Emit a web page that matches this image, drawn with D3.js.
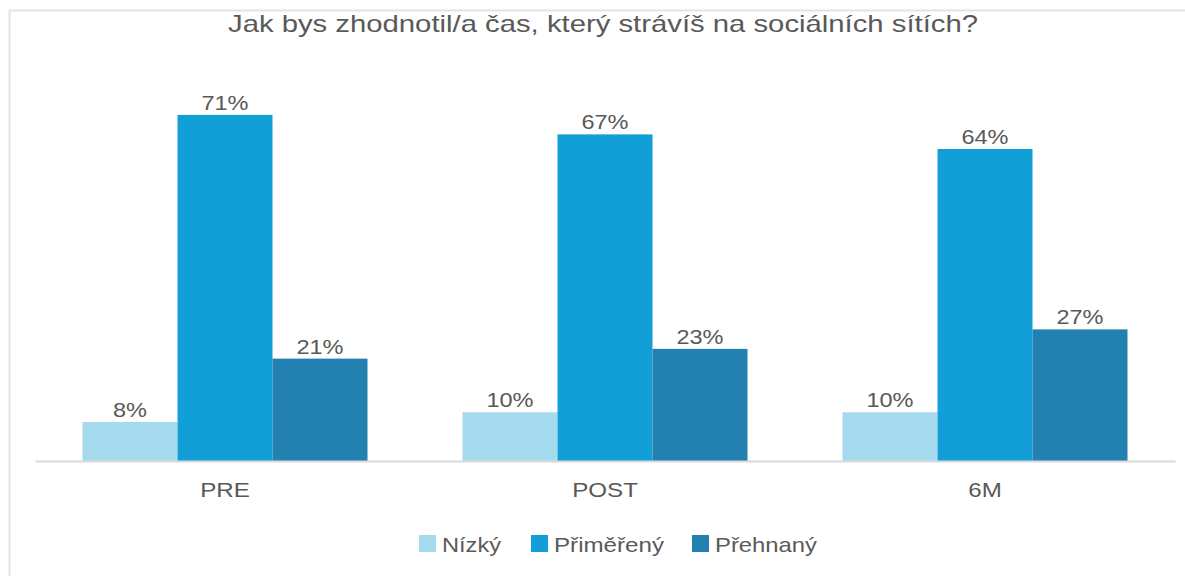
<!DOCTYPE html>
<html>
<head>
<meta charset="utf-8">
<script src="https://cdn.jsdelivr.net/npm/d3@7"></script>
<style>
  body { margin: 0; background: #fff; }
  text { font-family: "Liberation Sans", Arial, sans-serif; fill: #595959; }
</style>
</head>
<body>
<script>
// data
var categories = ["PRE", "POST", "6M"];
var series = ["Nízký", "Přiměřený", "Přehnaný"];
var nizky = [8, 10, 10];
var primereny = [71, 67, 64];
var prehnany = [21, 23, 27];

var colors = {
    "Nízký": "#a6dbef",
    "Přiměřený": "#129fd7",
    "Přehnaný": "#2381b1"
};

var width = 1185;
var height = 576;

// the reference text is drawn a bit wider than Arial, so stretch it
function stretch(sel, k) {
    sel.each(function() {
        var len = this.getComputedTextLength();
        d3.select(this)
            .attr("textLength", len * k)
            .attr("lengthAdjust", "spacingAndGlyphs");
    });
}

var svg = d3.select("body").append("svg")
    .attr("width", width)
    .attr("height", height);

// chart frame (only top and left edges show)
svg.append("line")
    .attr("x1", 9).attr("x2", width)
    .attr("y1", 10.5).attr("y2", 10.5)
    .style("stroke", "#e3e3e3")
    .style("stroke-width", 2);
svg.append("line")
    .attr("x1", 9.5).attr("x2", 9.5)
    .attr("y1", 10).attr("y2", height)
    .style("stroke", "#e3e3e3")
    .style("stroke-width", 2);

var rows = categories.map(function(c, i) {
    return {cat: c, values: [nizky[i], primereny[i], prehnany[i]]};
});

var x0 = d3.scaleBand()
    .domain(categories)
    .range([35, 1175]);

var x1 = d3.scaleBand()
    .domain(series)
    .range([47.5, x0.bandwidth() - 47.5]);

var y = d3.scaleLinear()
    .domain([0, 80])
    .range([461, 71]);

// title
svg.append("text")
    .attr("x", 603)
    .attr("y", 32)
    .attr("text-anchor", "middle")
    .attr("textLength", 750)
    .attr("lengthAdjust", "spacingAndGlyphs")
    .style("font-size", "24px")
    .text("Jak bys zhodnotil/a čas, který strávíš na sociálních sítích?");

var groups = svg.selectAll(".group")
    .data(rows)
    .enter().append("g")
    .attr("class", "group")
    .attr("transform", function(d) { return "translate(" + x0(d.cat) + ",0)"; });

groups.selectAll("rect")
    .data(function(d) { return d.values.map(function(v, i) { return {key: series[i], value: v}; }); })
    .enter().append("rect")
    .attr("x", function(d) { return x1(d.key); })
    .attr("y", function(d) { return y(d.value); })
    .attr("width", x1.bandwidth())
    .attr("height", function(d) { return y(0) - y(d.value); })
    .style("fill", function(d) { return colors[d.key]; });

groups.selectAll(".label")
    .data(function(d) { return d.values.map(function(v, i) { return {key: series[i], value: v}; }); })
    .enter().append("text")
    .attr("class", "label")
    .attr("x", function(d) { return x1(d.key) + x1.bandwidth() / 2; })
    .attr("y", function(d) { return y(d.value) - 5; })
    .attr("text-anchor", "middle")
    .style("font-size", "21px")
    .text(function(d) { return d.value + "%"; })
    .call(stretch, 1.12);

// x axis
var xAxis = svg.append("g")
    .attr("transform", "translate(0," + y(0) + ")")
    .call(d3.axisBottom(x0).tickSize(0).tickPadding(21));
xAxis.select(".domain").style("stroke", "#d9d9d9").style("stroke-width", 2);
xAxis.selectAll("text")
    .style("font-size", "21px")
    .style("fill", "#595959")
    .style("font-family", "Liberation Sans, Arial, sans-serif")
    .call(stretch, 1.15);

// legend
var legend = svg.append("g").attr("class", "legend");
var legendX = [419, 531, 692];
var legendW = [59, 110, 102];
series.forEach(function(s, i) {
    legend.append("rect")
        .attr("x", legendX[i])
        .attr("y", 535)
        .attr("width", 17)
        .attr("height", 17)
        .style("fill", colors[s]);
    legend.append("text")
        .attr("x", legendX[i] + 23)
        .attr("y", 552)
        .attr("textLength", legendW[i])
        .attr("lengthAdjust", "spacingAndGlyphs")
        .style("font-size", "21px")
        .text(s);
});
</script>
</body>
</html>
